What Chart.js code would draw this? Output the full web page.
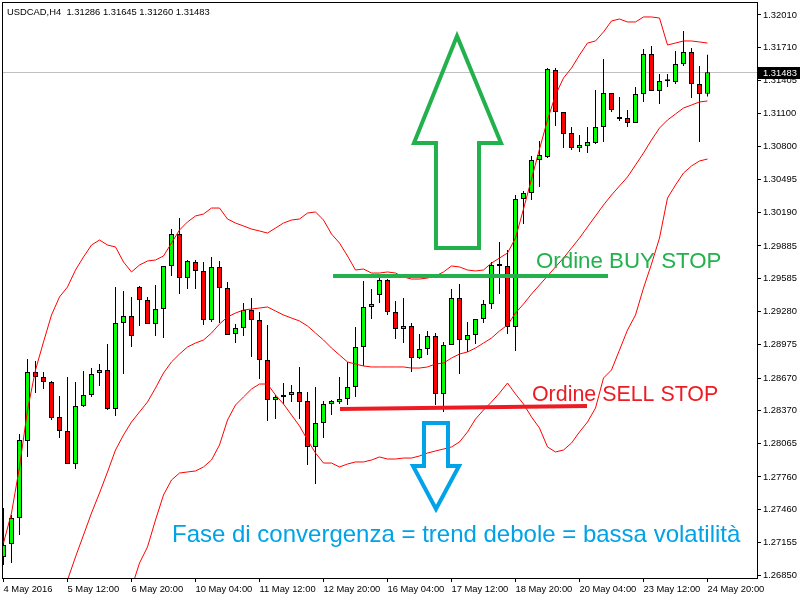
<!DOCTYPE html>
<html lang="en">
<head>
<meta charset="UTF-8">
<title>USDCAD H4</title>
<script src="https://cdn.jsdelivr.net/npm/chart.js"></script>
<style>
  html, body { margin: 0; padding: 0; background: #fff; }
  #wrap { width: 800px; height: 600px; }
</style>
</head>
<body>
<div id="wrap"><canvas id="chart" width="800" height="600"></canvas></div>
<script>
// H4 bars, oldest first (bar number = array index)
const openPrices = [
  1.27024, 1.27143, 1.27382, 1.28091, 1.28726, 1.28680, 1.28634, 1.28312, 1.28183, 1.27879,
  1.28413, 1.28514, 1.28716, 1.28744, 1.28385, 1.29176, 1.29241, 1.29508, 1.29388, 1.29167,
  1.29305, 1.29701, 1.29995, 1.29590, 1.29738, 1.29655, 1.29204, 1.29692, 1.29498, 1.29075,
  1.29130, 1.29296, 1.29204, 1.28836, 1.28468, 1.28496, 1.28514, 1.28542, 1.28459, 1.28036,
  1.28256, 1.28431, 1.28450, 1.28477, 1.28588, 1.28956, 1.29324, 1.29434, 1.29572, 1.29278,
  1.29121, 1.29149, 1.28854, 1.28937, 1.29057, 1.28523, 1.28974, 1.29406, 1.29020, 1.29066,
  1.29213, 1.29351, 1.29701, 1.29701, 1.29140, 1.30317, 1.30372, 1.30676, 1.30704, 1.31504,
  1.31118, 1.30924, 1.30786, 1.30805, 1.30832, 1.30980, 1.31292, 1.31062, 1.31062, 1.31016,
  1.31283, 1.31651, 1.31311, 1.31400, 1.31394, 1.31559, 1.31670, 1.31375, 1.31286
];
const highPrices = [
  1.27474, 1.27410, 1.28155, 1.28845, 1.28827, 1.28726, 1.28643, 1.28505, 1.28680, 1.28634,
  1.28735, 1.28762, 1.28799, 1.28983, 1.29508, 1.29471, 1.29416, 1.29517, 1.29416, 1.29526,
  1.29701, 1.30041, 1.30142, 1.29756, 1.29756, 1.29738, 1.29784, 1.29747, 1.29554, 1.29167,
  1.29360, 1.29406, 1.29278, 1.29158, 1.28514, 1.28624, 1.28606, 1.28772, 1.28542, 1.28588,
  1.28459, 1.28468, 1.28680, 1.28818, 1.29140, 1.29563, 1.29489, 1.29590, 1.29581, 1.29379,
  1.29406, 1.29176, 1.29075, 1.29103, 1.29084, 1.29002, 1.29489, 1.29535, 1.29186, 1.29213,
  1.29388, 1.29738, 1.29922, 1.29848, 1.30354, 1.30391, 1.30713, 1.30851, 1.31522, 1.31522,
  1.31118, 1.30980, 1.30906, 1.30980, 1.31320, 1.31605, 1.31292, 1.31256, 1.31136, 1.31348,
  1.31697, 1.31725, 1.31467, 1.31467, 1.31679, 1.31863, 1.31706, 1.31541, 1.31645
];
const lowPrices = [
  1.26950, 1.26968, 1.27226, 1.27944, 1.28532, 1.28569, 1.28284, 1.28118, 1.27879, 1.27833,
  1.28404, 1.28496, 1.28597, 1.28376, 1.28321, 1.28707, 1.28956, 1.29149, 1.29167, 1.29057,
  1.29038, 1.29609, 1.29443, 1.29489, 1.29489, 1.29158, 1.29186, 1.29176, 1.29066, 1.28992,
  1.29057, 1.28864, 1.28661, 1.28275, 1.28293, 1.28431, 1.28450, 1.28293, 1.27870, 1.27695,
  1.28118, 1.28330, 1.28431, 1.28422, 1.28496, 1.28781, 1.29213, 1.29360, 1.29250, 1.29029,
  1.28992, 1.28726, 1.28845, 1.28882, 1.28422, 1.28358, 1.28974, 1.28707, 1.28910, 1.28983,
  1.29176, 1.29305, 1.29443, 1.29075, 1.28919, 1.30087, 1.30308, 1.30428, 1.30694, 1.30989,
  1.30786, 1.30768, 1.30750, 1.30740, 1.30823, 1.30842, 1.31118, 1.31035, 1.30980, 1.31016,
  1.31210, 1.31311, 1.31191, 1.31348, 1.31375, 1.31541, 1.31246, 1.30842, 1.31260
];
const closePrices = [
  1.27134, 1.27382, 1.28100, 1.28726, 1.28680, 1.28634, 1.28302, 1.28183, 1.27879, 1.28413,
  1.28514, 1.28707, 1.28744, 1.28385, 1.29176, 1.29241, 1.29057, 1.29388, 1.29167, 1.29305,
  1.29701, 1.29995, 1.29590, 1.29747, 1.29655, 1.29204, 1.29692, 1.29498, 1.29066, 1.29130,
  1.29296, 1.29204, 1.28836, 1.28468, 1.28496, 1.28514, 1.28542, 1.28450, 1.28036, 1.28256,
  1.28431, 1.28459, 1.28477, 1.28588, 1.28956, 1.29324, 1.29351, 1.29572, 1.29278, 1.29121,
  1.29149, 1.28854, 1.28937, 1.29057, 1.28523, 1.28974, 1.29406, 1.29020, 1.29066, 1.29213,
  1.29351, 1.29710, 1.29701, 1.29140, 1.30317, 1.30372, 1.30676, 1.30722, 1.31513, 1.31118,
  1.30915, 1.30786, 1.30814, 1.30842, 1.30980, 1.31292, 1.31136, 1.31053, 1.31016, 1.31283,
  1.31651, 1.31311, 1.31403, 1.31405, 1.31559, 1.31670, 1.31375, 1.31283, 1.31483
];

// Bollinger bands
const upperBand = [
  1.27152, 1.27428, 1.27852, 1.28376, 1.28744, 1.29002, 1.29250, 1.29416, 1.29508, 1.29664,
  1.29784, 1.29894, 1.29940, 1.29894, 1.29876, 1.29738, 1.29646, 1.29710, 1.29747, 1.29756,
  1.29793, 1.29912, 1.30032, 1.30106, 1.30161, 1.30179, 1.30234, 1.30234, 1.30133, 1.30096,
  1.30069, 1.30041, 1.30023, 1.30004, 1.30050, 1.30096, 1.30124, 1.30133, 1.30188, 1.30198,
  1.30124, 1.29995, 1.29912, 1.29793, 1.29664, 1.29673, 1.29636, 1.29636, 1.29646, 1.29636,
  1.29600, 1.29581, 1.29581, 1.29590, 1.29609, 1.29646, 1.29701, 1.29692, 1.29664, 1.29655,
  1.29664, 1.29728, 1.29774, 1.29820, 1.29958, 1.30225, 1.30501, 1.30777, 1.31044, 1.31274,
  1.31430, 1.31522, 1.31642, 1.31752, 1.31771, 1.31854, 1.31955, 1.31973, 1.31946, 1.31946,
  1.31992, 1.31992, 1.31982, 1.31734, 1.31752, 1.31771, 1.31771, 1.31762, 1.31752
];
const middleBand = [
  1.25294, 1.25450, 1.25616, 1.25800, 1.25984, 1.26186, 1.26398, 1.26610, 1.26812, 1.27024,
  1.27226, 1.27428, 1.27612, 1.27806, 1.28008, 1.28146, 1.28266, 1.28358, 1.28450, 1.28578,
  1.28716, 1.28818, 1.28891, 1.28956, 1.28992, 1.29020, 1.29084, 1.29167, 1.29232, 1.29268,
  1.29296, 1.29305, 1.29314, 1.29324, 1.29287, 1.29250, 1.29222, 1.29195, 1.29149, 1.29084,
  1.29020, 1.28946, 1.28882, 1.28818, 1.28799, 1.28781, 1.28772, 1.28772, 1.28772, 1.28772,
  1.28772, 1.28762, 1.28762, 1.28772, 1.28799, 1.28808, 1.28854, 1.28891, 1.28910, 1.28946,
  1.28992, 1.29038, 1.29103, 1.29158, 1.29268, 1.29351, 1.29443, 1.29526, 1.29609, 1.29692,
  1.29774, 1.29866, 1.29958, 1.30060, 1.30161, 1.30262, 1.30354, 1.30437, 1.30520, 1.30630,
  1.30740, 1.30860, 1.30970, 1.31044, 1.31099, 1.31154, 1.31182, 1.31210, 1.31219
];
const lowerBand = [
  1.23684, 1.23822, 1.23978, 1.24144, 1.24328, 1.24512, 1.24714, 1.24917, 1.25119, 1.25322,
  1.25524, 1.25726, 1.25929, 1.26131, 1.26334, 1.26536, 1.26738, 1.26968, 1.27116, 1.27364,
  1.27594, 1.27732, 1.27796, 1.27806, 1.27815, 1.27852, 1.27916, 1.28054, 1.28284, 1.28422,
  1.28496, 1.28569, 1.28615, 1.28615, 1.28514, 1.28431, 1.28330, 1.28229, 1.28100, 1.27980,
  1.27888, 1.27888, 1.27852, 1.27879, 1.27898, 1.27898, 1.27916, 1.27944, 1.27925, 1.27925,
  1.27934, 1.27934, 1.27953, 1.27980, 1.27999, 1.28017, 1.28036, 1.28082, 1.28174, 1.28293,
  1.28376, 1.28450, 1.28532, 1.28624, 1.28523, 1.28431, 1.28312, 1.28210, 1.28036, 1.27990,
  1.28008, 1.28072, 1.28174, 1.28266, 1.28394, 1.28670, 1.28744, 1.28928, 1.29112, 1.29250,
  1.29498, 1.29719, 1.29958, 1.30326, 1.30446, 1.30556, 1.30621, 1.30667, 1.30685
];

// axis ticks
const xTickBars = [0, 8, 16, 24, 32, 40, 48, 56, 64, 72, 80, 88];
const xTickLabels = ['4 May 2016', '5 May 12:00', '6 May 20:00', '10 May 04:00', '11 May 12:00', '12 May 20:00',
  '16 May 04:00', '17 May 12:00', '18 May 20:00', '20 May 04:00', '23 May 12:00', '24 May 20:00'];
const yTickValues = [1.26850, 1.27155, 1.27460, 1.27760, 1.28065, 1.28370, 1.28670, 1.28975, 1.29280,
  1.29585, 1.29885, 1.30190, 1.30495, 1.30800, 1.31100, 1.31405, 1.31710, 1.32010];

const symbolName = 'USDCAD,H4';

// hand drawn notes, in bar number / price
const buyStopLine = { from: 41.19, to: 75.56, priceFrom: 1.29609, priceTo: 1.29609 };
const sellStopLine = { from: 42.06, to: 72.94, priceFrom: 1.28385, priceTo: 1.28413 };
const upArrow = [[56.69, 1.31817], [62.19, 1.30832], [59.44, 1.30832], [59.44, 1.29866],
  [54.06, 1.29866], [54.06, 1.30832], [51.31, 1.30832]];
const downArrow = [[52.56, 1.28256], [55.56, 1.28256], [55.56, 1.27861], [56.94, 1.27861],
  [54.06, 1.27465], [51.19, 1.27861], [52.56, 1.27861]];
const notes = [
  { text: 'Ordine BUY STOP', bar: 66.56, price: 1.29682, color: '#22b14c', size: 22.3 },
  { text: 'Ordine SELL STOP', bar: 66.06, price: 1.28459, color: '#ed1c24', size: 21.4 },
  { text: 'Fase di convergenza = trend debole = bassa volatilità', bar: 21.06, price: 1.27162, color: '#00a2e8', size: 24 }
];

const bars = openPrices.map((_, i) => i);
const axisFont = { family: '"Liberation Sans", Arial, sans-serif', size: 9.4 };

// draws the price line, the notes, the frame and the header
const mt4Overlay = {
  id: 'mt4Overlay',
  beforeDatasetsDraw(chart) {
    const { ctx, chartArea, scales } = chart;
    const py = Math.round(scales.y.getPixelForValue(closePrices[closePrices.length - 1])) + 0.5;
    ctx.save();
    ctx.strokeStyle = '#c0c0c0';
    ctx.lineWidth = 1;
    ctx.beginPath();
    ctx.moveTo(chartArea.left, py);
    ctx.lineTo(chartArea.right, py);
    ctx.stroke();
    ctx.restore();
  },
  afterDatasetsDraw(chart) {
    const { ctx, scales } = chart;
    const px = v => scales.x.getPixelForValue(v);
    const py = v => scales.y.getPixelForValue(v);
    ctx.save();
    ctx.lineCap = 'butt';

    // order lines
    [[buyStopLine, '#22b14c'], [sellStopLine, '#ed1c24']].forEach(([l, c]) => {
      ctx.strokeStyle = c;
      ctx.lineWidth = 4;
      ctx.beginPath();
      ctx.moveTo(px(l.from), py(l.priceFrom));
      ctx.lineTo(px(l.to), py(l.priceTo));
      ctx.stroke();
    });

    // arrows
    ctx.lineJoin = 'miter';
    [[upArrow, '#22b14c'], [downArrow, '#00a2e8']].forEach(([pts, c]) => {
      ctx.strokeStyle = c;
      ctx.lineWidth = 4;
      ctx.beginPath();
      pts.forEach(([b, p], i) => {
        if (i === 0) ctx.moveTo(px(b), py(p));
        else ctx.lineTo(px(b), py(p));
      });
      ctx.closePath();
      ctx.stroke();
    });

    // texts
    ctx.textAlign = 'left';
    ctx.textBaseline = 'alphabetic';
    notes.forEach(n => {
      ctx.fillStyle = n.color;
      ctx.font = n.size + 'px "Liberation Sans", Arial, sans-serif';
      ctx.fillText(n.text, px(n.bar), py(n.price));
    });
    ctx.restore();
  },
  afterDraw(chart) {
    const { ctx, chartArea, scales } = chart;
    const last = closePrices.length - 1;
    ctx.save();
    // frame
    ctx.strokeStyle = '#000';
    ctx.lineWidth = 1;
    ctx.strokeRect(chartArea.left - 0.5, chartArea.top - 0.5,
      chartArea.right - chartArea.left + 1, chartArea.bottom - chartArea.top + 1);

    // header
    ctx.fillStyle = '#000';
    ctx.font = axisFont.size + 'px ' + axisFont.family;
    ctx.textBaseline = 'middle';
    ctx.textAlign = 'left';
    const ohlc = [openPrices[last], highPrices[last], lowPrices[last], closePrices[last]]
      .map(v => v.toFixed(5)).join(' ');
    ctx.fillText(symbolName + '  ' + ohlc, chartArea.left + 4, chartArea.top + 9);

    // last price tag
    const py = Math.round(scales.y.getPixelForValue(closePrices[last]));
    ctx.fillRect(chartArea.right + 1, py - 5, chart.width - chartArea.right - 1, 12);
    ctx.fillStyle = '#fff';
    ctx.fillText(closePrices[last].toFixed(5), chartArea.right + 6, py + 1);
    ctx.restore();
  }
};

new Chart(document.getElementById('chart'), {
  type: 'bar',
  data: {
    datasets: [
      {
        type: 'line',
        data: bars.map(i => ({ x: i, y: upperBand[i] })),
        borderColor: '#ff0000', borderWidth: 1, pointRadius: 0, tension: 0, order: 0
      },
      {
        type: 'line',
        data: bars.map(i => ({ x: i, y: middleBand[i] })),
        borderColor: '#ff0000', borderWidth: 1, pointRadius: 0, tension: 0, order: 0
      },
      {
        type: 'line',
        data: bars.map(i => ({ x: i, y: lowerBand[i] })),
        borderColor: '#ff0000', borderWidth: 1, pointRadius: 0, tension: 0, order: 0
      },
      {
        // candle bodies
        data: bars.map(i => ({ x: i, y: [openPrices[i], closePrices[i]] })),
        backgroundColor: bars.map(i => closePrices[i] >= openPrices[i] ? '#00ff00' : '#ff0000'),
        borderColor: '#000', borderWidth: 1, borderSkipped: false,
        barThickness: 5, minBarLength: 2, grouped: false, inflateAmount: 0, order: 1
      },
      {
        // wicks
        data: bars.map(i => ({ x: i, y: [lowPrices[i], highPrices[i]] })),
        backgroundColor: '#000', borderWidth: 0,
        barThickness: 1, grouped: false, inflateAmount: 0, order: 2
      }
    ]
  },
  options: {
    responsive: false,
    animation: false,
    events: [],
    layout: { padding: { top: 3, left: 3, right: 0, bottom: 0 } },
    plugins: { legend: { display: false }, tooltip: { enabled: false } },
    scales: {
      x: {
        type: 'linear',
        offset: false,
        min: -0.0625,
        max: 94.1875,
        afterBuildTicks: s => { s.ticks = xTickBars.map(v => ({ value: v })); },
        afterFit: s => { s.height = 22; s.paddingLeft = 0; s.paddingRight = 0; },
        grid: { offset: false, drawOnChartArea: false, drawTicks: true, tickLength: 4, color: '#000' },
        border: { display: false },
        ticks: {
          align: 'start', autoSkip: false, maxRotation: 0, padding: 2,
          color: '#000', font: axisFont,
          callback: v => xTickLabels[xTickBars.indexOf(v)]
        }
      },
      y: {
        position: 'right',
        min: 1.268304,
        max: 1.321204,
        afterBuildTicks: s => { s.ticks = yTickValues.map(v => ({ value: v })); },
        afterFit: s => { s.width = 43; s.paddingTop = 0; s.paddingBottom = 0; },
        grid: { drawOnChartArea: false, drawTicks: true, tickLength: 4, color: '#000' },
        border: { display: false },
        ticks: {
          padding: 2, color: '#000', font: axisFont,
          callback: v => v.toFixed(5)
        }
      }
    }
  },
  plugins: [mt4Overlay]
});
</script>
</body>
</html>
